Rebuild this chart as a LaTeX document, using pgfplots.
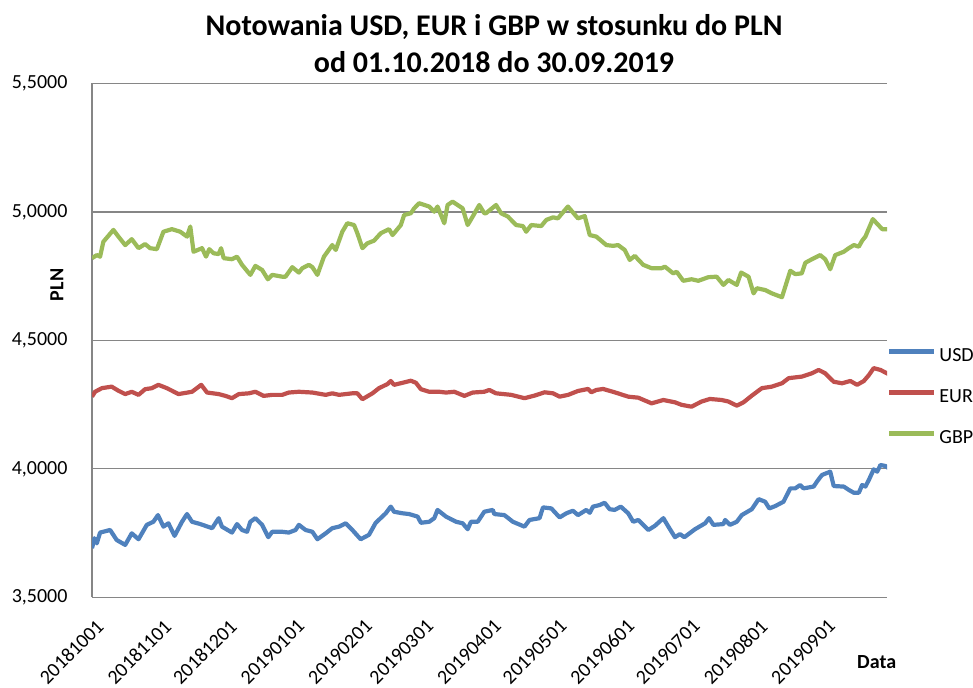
\documentclass[border=0pt]{standalone}
\usepackage{pgfplots}
\pgfplotsset{compat=1.18}
\usepackage{fontspec}
\setmainfont{Carlito}
\definecolor{cusd}{HTML}{4F81BD}
\definecolor{ceur}{HTML}{C0504D}
\definecolor{cgbp}{HTML}{9BBB59}
\definecolor{cax}{HTML}{868686}
\begin{document}
\begin{tikzpicture}[x=1bp,y=1bp]
\useasboundingbox (0,0) rectangle (973,688);
\node[font=\fontsize{30bp}{37bp}\selectfont\bfseries, align=center] at (494,644.5) {Notowania USD, EUR i GBP w stosunku do PLN\\od 01.10.2018 do 30.09.2019};
\begin{axis}[
  at={(92bp,90.7bp)}, anchor=south west,
  width=795bp, height=513.8bp, scale only axis,
  xmin=0, xmax=364, ymin=3.5, ymax=5.5,
  axis x line*=bottom, axis y line*=left,
  axis line style={cax, line width=1.3bp, -},
  ymajorgrids, major grid style={cax, line width=1.3bp},
  major tick length=0pt,
  ytick={3.5,4,4.5,5,5.5},
  yticklabels={{3,5000},{4,0000},{4,5000},{5,0000},{5,5000}},
  xtick={0,31,61,92,123,151,182,212,243,273,304,335},
  xticklabels={20181001,20181101,20181201,20190101,20190201,20190301,20190401,20190501,20190601,20190701,20190801,20190901},
  tick label style={font=\fontsize{20bp}{24bp}\selectfont, text=black},
  yticklabel style={xshift=-21bp},
  xticklabel style={rotate=45, anchor=east, xshift=-9bp, yshift=-24bp},
  ylabel={PLN}, xlabel={Data},
  ylabel style={font=\fontsize{20bp}{24bp}\selectfont\bfseries, at={(-0.044,0.608)}, anchor=center, rotate=0},
  xlabel style={font=\fontsize{20bp}{24bp}\selectfont\bfseries, at={(0.987,-0.126)}, anchor=center},
  legend style={draw=none, fill=none, at={(1,0.389)}, anchor=west, font=\fontsize{20bp}{24bp}\selectfont,
    inner sep=0pt, row sep=23bp, column sep=3bp,
    nodes={inner sep=0pt, text height=14bp, text depth=4bp}},
  legend cell align=left,
  legend image code/.code={\draw[#1] (0bp,5bp) -- (45bp,5bp);},
  every axis plot/.append style={line width=4.2bp, line join=round},
]
\addplot[cusd] coordinates {
(0,3.691)(1.1,3.730)(2.2,3.710)(3.7,3.752)(8.3,3.762)(11.3,3.723)(15.2,3.704)(18.2,3.749)(21.3,3.726)(25.1,3.782)(28.1,3.794)(30.2,3.820)(32.7,3.775)(35.0,3.788)(37.8,3.739)(41.2,3.794)(43.5,3.824)(45.8,3.794)(49.6,3.785)(55.0,3.769)(58.0,3.808)(59.5,3.775)(64.1,3.752)(66.4,3.785)(68.7,3.762)(71.0,3.755)(72.5,3.794)(74.8,3.808)(77.9,3.782)(80.7,3.734)(82.5,3.755)(87.1,3.755)(90.1,3.752)(93.2,3.762)(94.7,3.782)(97.8,3.762)(100.9,3.755)(103.2,3.726)(107.0,3.749)(110.0,3.769)(113.1,3.775)(116.2,3.788)(119.2,3.762)(123.0,3.726)(126.8,3.743)(129.9,3.790)(134.5,3.827)(136.8,3.853)(138.3,3.833)(142.2,3.827)(145.2,3.824)(149.1,3.814)(150.6,3.790)(154.4,3.794)(156.7,3.808)(158.2,3.840)(162.1,3.814)(166.7,3.794)(169.7,3.788)(172.0,3.765)(173.5,3.794)(176.6,3.794)(179.6,3.833)(183.5,3.840)(184.2,3.824)(188.8,3.820)(192.7,3.794)(198.0,3.775)(200.3,3.801)(204.9,3.808)(206.5,3.850)(210.3,3.846)(214.1,3.811)(217.2,3.827)(220.2,3.837)(222.5,3.820)(226.3,3.840)(227.9,3.829)(229.4,3.853)(232.4,3.859)(234.7,3.868)(237.0,3.843)(239.3,3.840)(242.1,3.853)(245.5,3.827)(247.8,3.794)(250.1,3.801)(254.7,3.762)(257.7,3.778)(261.6,3.808)(263.9,3.775)(266.9,3.734)(269.2,3.746)(271.2,3.734)(276.1,3.765)(280.7,3.788)(282.5,3.808)(284.5,3.782)(289.1,3.785)(289.9,3.801)(292.1,3.782)(295.2,3.794)(297.5,3.820)(302.1,3.843)(305.2,3.882)(308.2,3.872)(310.1,3.846)(312.8,3.855)(316.6,3.872)(319.7,3.924)(322.0,3.924)(324.2,3.937)(325.8,3.924)(330.4,3.931)(331.9,3.950)(334.2,3.976)(338.0,3.989)(339.6,3.933)(344.2,3.931)(346.5,3.918)(348.8,3.907)(351.1,3.907)(352.6,3.937)(354.1,3.931)(355.7,3.957)(357.9,3.998)(359.5,3.989)(361.0,4.015)(363.3,4.011)(364.8,4.002)
};
\addlegendentry{USD}
\addplot[ceur] coordinates {
(0,4.281)(1.4,4.300)(4.5,4.314)(9.0,4.320)(12.1,4.304)(15.2,4.291)(18.2,4.300)(21.3,4.288)(24.3,4.310)(27.4,4.314)(30.4,4.327)(34.3,4.314)(39.6,4.291)(45.8,4.300)(50.0,4.327)(52.7,4.297)(58.0,4.291)(61.1,4.284)(64.1,4.275)(67.2,4.291)(71.8,4.294)(74.8,4.300)(78.6,4.284)(82.5,4.288)(87.1,4.288)(90.1,4.297)(94.7,4.300)(100.9,4.297)(107.0,4.288)(110.0,4.294)(113.1,4.288)(119.2,4.294)(121.5,4.294)(123.8,4.271)(128.4,4.294)(131.4,4.314)(135.3,4.330)(136.8,4.342)(138.3,4.327)(142.2,4.335)(146.0,4.343)(148.3,4.335)(150.6,4.310)(154.4,4.300)(159.0,4.300)(162.1,4.297)(165.9,4.300)(170.5,4.284)(174.3,4.297)(179.6,4.300)(181.9,4.307)(185.0,4.294)(191.9,4.288)(198.0,4.275)(202.6,4.285)(207.2,4.298)(211.1,4.294)(214.1,4.281)(218.0,4.288)(222.5,4.303)(227.1,4.311)(228.6,4.298)(230.9,4.307)(234.0,4.311)(239.3,4.298)(245.5,4.281)(250.1,4.277)(256.2,4.255)(261.6,4.268)(266.9,4.259)(270.0,4.249)(274.5,4.242)(279.1,4.262)(282.9,4.272)(288.3,4.268)(291.4,4.262)(295.2,4.246)(298.3,4.259)(302.1,4.285)(306.7,4.314)(311.3,4.320)(315.9,4.333)(319.0,4.353)(325.0,4.359)(329.6,4.372)(332.7,4.385)(335.7,4.372)(339.6,4.339)(343.4,4.333)(347.2,4.342)(350.3,4.327)(353.4,4.342)(355.7,4.365)(357.9,4.392)(361.0,4.385)(364.8,4.368)
};
\addlegendentry{EUR}
\addplot[cgbp] coordinates {
(0,4.820)(2.2,4.832)(3.7,4.826)(5.2,4.884)(9.8,4.930)(12.1,4.904)(15.2,4.871)(18.2,4.894)(21.3,4.859)(24.3,4.875)(26.6,4.859)(29.7,4.855)(32.7,4.923)(36.6,4.933)(40.4,4.923)(43.5,4.904)(45.0,4.943)(46.5,4.845)(50.4,4.859)(52.2,4.826)(53.7,4.855)(55.7,4.839)(58.0,4.836)(59.1,4.859)(60.3,4.820)(64.1,4.816)(66.4,4.826)(68.7,4.794)(72.5,4.755)(74.8,4.790)(77.9,4.774)(80.5,4.738)(82.5,4.755)(87.1,4.748)(88.6,4.748)(91.7,4.785)(94.7,4.764)(96.3,4.781)(99.3,4.794)(100.9,4.785)(103.2,4.755)(106.2,4.826)(110.0,4.871)(111.6,4.852)(114.6,4.923)(116.9,4.956)(120.0,4.949)(121.5,4.917)(123.8,4.859)(126.1,4.878)(129.1,4.888)(132.2,4.917)(136.0,4.933)(137.6,4.910)(141.4,4.949)(142.9,4.988)(146.0,4.995)(147.5,5.014)(149.8,5.034)(154.4,5.021)(156.7,5.001)(158.2,5.021)(161.3,4.956)(162.8,5.027)(165.1,5.040)(169.7,5.014)(172.0,4.949)(174.3,4.982)(177.3,5.027)(179.6,4.995)(180.4,4.995)(185.0,5.027)(187.3,4.995)(190.4,4.982)(194.2,4.949)(197.3,4.945)(198.8,4.923)(201.1,4.949)(205.7,4.945)(208.0,4.969)(211.1,4.979)(213.3,4.975)(217.9,5.021)(222.5,4.975)(225.6,4.984)(227.9,4.910)(230.9,4.904)(235.5,4.871)(238.6,4.868)(240.9,4.871)(243.9,4.852)(246.2,4.813)(248.5,4.829)(252.4,4.794)(256.2,4.781)(260.8,4.781)(262.3,4.787)(266.1,4.761)(267.7,4.767)(270.7,4.732)(274.5,4.738)(277.6,4.732)(282.2,4.746)(286.0,4.748)(289.1,4.716)(291.4,4.735)(295.2,4.716)(297.2,4.764)(300.6,4.748)(302.9,4.683)(304.4,4.703)(308.2,4.696)(311.3,4.683)(315.9,4.668)(319.7,4.771)(322.0,4.758)(325.0,4.761)(326.6,4.802)(329.6,4.816)(333.4,4.832)(335.7,4.816)(338.0,4.777)(340.3,4.832)(344.2,4.845)(346.5,4.859)(348.8,4.871)(351.1,4.865)(352.6,4.888)(354.1,4.904)(357.5,4.972)(361.8,4.933)(364.8,4.933)
};
\addlegendentry{GBP}
\end{axis}
\end{tikzpicture}
\end{document}
